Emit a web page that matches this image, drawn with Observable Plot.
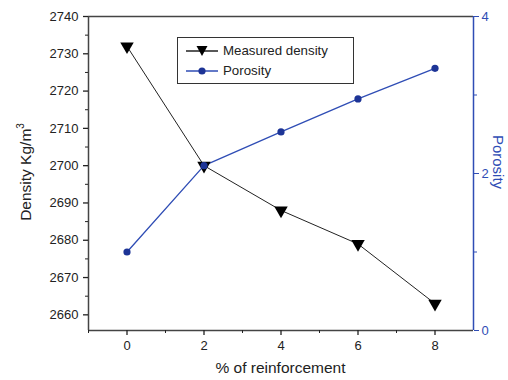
<!DOCTYPE html>
<html>
<head>
<meta charset="utf-8">
<script src="https://cdn.jsdelivr.net/npm/d3@7"></script>
<script src="https://cdn.jsdelivr.net/npm/@observablehq/plot@0.6"></script>
<style>
  body { margin: 0; background: white; }
  #wrap { position: relative; width: 508px; height: 380px; overflow: hidden; font-family: "Liberation Sans", Arial, sans-serif; }
  .lbl { position: absolute; white-space: nowrap; color: #222; }
</style>
</head>
<body>
<div id="wrap"></div>
<script>
const xVals = [0, 2, 4, 6, 8];
const density = [2732, 2700, 2688, 2679, 2663];
const porosity = [1.0, 2.1, 2.53, 2.95, 3.34];
const densityTicks = [2660, 2670, 2680, 2690, 2700, 2710, 2720, 2730, 2740];
const densityMinor = [2665, 2675, 2685, 2695, 2705, 2715, 2725, 2735];
const xTicks = [0, 2, 4, 6, 8];
const xMinor = [-1, 1, 3, 5, 7];
const porosityTicks = [0, 2, 4];
const porosityMinor = [1, 3];
const seriesNames = ["Measured density", "Porosity"];
const xLabel = "% of reinforcement";

const yDom = [2655.8, 2740];
const xDom = [-1, 9];
const pMax = 4;
const p2d = p => yDom[0] + p * (yDom[1] - yDom[0]) / pMax;

const blue = "#2f4db5";
const blueDark = "#1d3496";

const data = xVals.map((x, i) => ({x, density: density[i], porosity: porosity[i]}));

const chart = Plot.plot({
  width: 508,
  height: 380,
  marginLeft: 88,
  marginRight: 35,
  marginTop: 16,
  marginBottom: 50,
  style: {fontFamily: "'Liberation Sans', Arial, sans-serif", fontSize: "13px", background: "white", color: "#222"},
  x: {domain: xDom},
  y: {domain: yDom},
  marks: [
    Plot.ruleY([yDom[1]], {stroke: "#444", strokeWidth: 1.5}),
    Plot.ruleY([yDom[0]], {stroke: "#444", strokeWidth: 1.5}),
    Plot.ruleX([xDom[0]], {stroke: "#444", strokeWidth: 1.5}),
    Plot.ruleX([xDom[1]], {stroke: blue, strokeWidth: 1.5}),
    Plot.axisX(xTicks, {tickSize: 5, tickPadding: 5, label: null, color: "#222", strokeWidth: 1.3, tickFormat: d3.format("d")}),
    Plot.axisX(xMinor, {tickSize: 3, tickFormat: () => "", label: null, color: "#222"}),
    Plot.axisY(densityTicks, {tickSize: 5, tickPadding: 5, label: null, color: "#222", strokeWidth: 1.3, tickFormat: d3.format("d")}),
    Plot.axisY(densityMinor, {tickSize: 3, tickFormat: () => "", label: null, color: "#222"}),
    Plot.axisY(porosityTicks.map(p2d), {anchor: "right", tickSize: 5, tickPadding: 3, label: null, color: blue,
      tickFormat: d => String(Math.round((d - yDom[0]) * pMax / (yDom[1] - yDom[0])))}),
    Plot.axisY(porosityMinor.map(p2d), {anchor: "right", tickSize: 3, tickFormat: () => "", label: null, color: blue}),
    Plot.line(data, {x: "x", y: "density", stroke: "#222", strokeWidth: 1}),
    Plot.line(data, {x: "x", y: d => p2d(d.porosity), stroke: blue, strokeWidth: 1.3}),
    Plot.dot(data, {x: "x", y: "density", symbol: "triangle", rotate: 180, r: 5, fill: "black", stroke: "none"}),
    Plot.dot(data, {x: "x", y: d => p2d(d.porosity), r: 3.6, fill: blueDark, stroke: "none"})
  ]
});

const wrap = document.getElementById("wrap");
wrap.appendChild(chart);

function addLabel(html, css) {
  const d = document.createElement("div");
  d.className = "lbl";
  d.innerHTML = html;
  Object.assign(d.style, css);
  wrap.appendChild(d);
  return d;
}

addLabel(xLabel, {left: "0px", width: "561px", textAlign: "center", top: "359px", fontSize: "15.5px"});
addLabel("Density Kg/m<sup style='font-size:10px'>3</sup>", {left: "25px", top: "172px", fontSize: "15.5px", transform: "translate(-50%,-50%) rotate(-90deg)"});
addLabel("Porosity", {left: "498px", top: "162px", fontSize: "15px", color: blue, transform: "translate(-50%,-50%) rotate(90deg)"});

// legend
const leg = document.createElement("div");
Object.assign(leg.style, {position: "absolute", left: "177px", top: "37px", width: "177px", height: "47px",
  border: "1.3px solid #333", background: "white", boxSizing: "border-box"});
wrap.appendChild(leg);
const symbols = [
  `<svg width="36" height="14"><line x1="2" y1="7" x2="34" y2="7" stroke="#222" stroke-width="1.5"/><path d="M12.5,2 L23.5,2 L18,12Z" fill="black"/></svg>`,
  `<svg width="36" height="14"><line x1="2" y1="7" x2="34" y2="7" stroke="${blue}" stroke-width="1.5"/><circle cx="18" cy="7" r="3.6" fill="${blueDark}"/></svg>`
];
seriesNames.forEach((name, i) => {
  const row = document.createElement("div");
  Object.assign(row.style, {position: "absolute", left: "6px", top: (6 + i * 20) + "px", display: "flex", alignItems: "center",
    fontSize: "13.3px", color: "#222", whiteSpace: "nowrap", lineHeight: "14px"});
  row.innerHTML = symbols[i] + `<span style="margin-left:3px">${name}</span>`;
  leg.appendChild(row);
});
</script>
</body>
</html>
